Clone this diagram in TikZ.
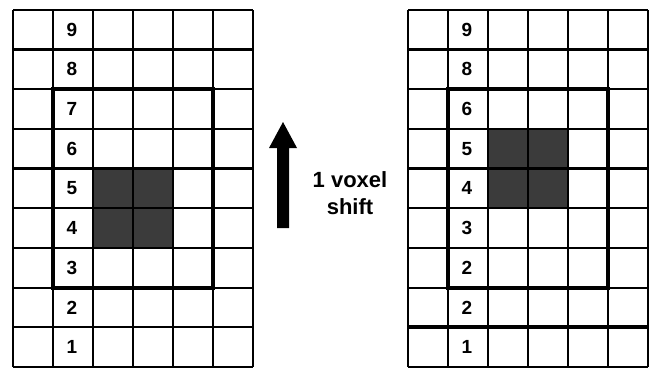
\documentclass[tikz,border=0pt]{standalone}
\usepackage{xcolor}
\usepackage{fontspec}
\setmainfont{Liberation Sans}
\usepackage{tikz}
\definecolor{VoxDark}{HTML}{3B3B3B}
\definecolor{VoxLine}{HTML}{000000}
\tikzset{
  voxgrid/.style={VoxLine,line width=2.2pt,xstep=40,ystep=39.7},
  voxbox/.style={VoxLine,line width=3.8pt},
  voxnum/.style={font=\fontsize{19}{19}\selectfont\bfseries,inner sep=0pt}
}

\begin{document}
\begin{tikzpicture}[x=1pt,y=1pt]
\path[use as bounding box,fill=white] (0,0) rectangle (650,368);
% left volume
\fill[VoxDark] (93,120.1) rectangle (173,199.5);
\draw[voxgrid,shift={(13,1)}] (0,0) grid (240,357.3);
\draw[voxbox] (53,80.4) rectangle (213,278.9);
\node[voxnum] (l1) at (72,20.85) {1};
\node[voxnum] (l2) at (72,60.55) {2};
\node[voxnum] (l3) at (72,100.25) {3};
\node[voxnum] (l4) at (72,139.95) {4};
\node[voxnum] (l5) at (72,179.65) {5};
\node[voxnum] (l6) at (72,219.35) {6};
\node[voxnum] (l7) at (72,259.05) {7};
\node[voxnum] (l8) at (72,298.75) {8};
\node[voxnum] (l9) at (72,338.45) {9};
% shift arrow
\fill[VoxLine] (277,140) -- (289,140) -- (289,220) -- (297,220) -- (283,246)
  -- (269,220) -- (277,220) -- cycle;
\node[align=center,font=\fontsize{22}{27}\selectfont\bfseries] (shift) at (350,175) {1 voxel\\shift};
% right volume
\fill[VoxDark] (488,159.8) rectangle (568,239.2);
\draw[voxgrid,shift={(408,1)}] (0,0) grid (240,357.3);
\draw[voxbox] (448,80.4) rectangle (608,278.9);
\draw[voxbox] (408,40.7) -- (648,40.7);
\node[voxnum] (r1) at (467,20.85) {1};
\node[voxnum] (r2a) at (467,60.55) {2};
\node[voxnum] (r2b) at (467,100.25) {2};
\node[voxnum] (r3) at (467,139.95) {3};
\node[voxnum] (r4) at (467,179.65) {4};
\node[voxnum] (r5) at (467,219.35) {5};
\node[voxnum] (r6) at (467,259.05) {6};
\node[voxnum] (r8) at (467,298.75) {8};
\node[voxnum] (r9) at (467,338.45) {9};
\end{tikzpicture}
\end{document}
